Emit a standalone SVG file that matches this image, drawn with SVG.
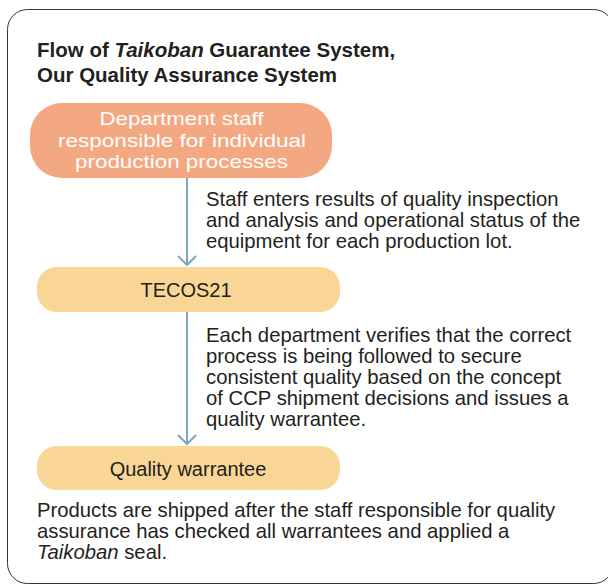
<svg xmlns="http://www.w3.org/2000/svg" width="608" height="586" viewBox="0 0 608 586">
<style>
text{font-family:"Liberation Sans",Arial,sans-serif;fill:#231f20}
.t{font-size:20.5px;font-weight:bold}
.b{font-size:20.3px}
.n{font-size:20px;text-anchor:middle}
.n1{font-size:19px;fill:#fff;text-anchor:middle}
.c{stroke:#7fa5bf;stroke-width:2;fill:none}
</style>
<rect x="7.5" y="9.5" width="606" height="574" rx="20" fill="#fff" stroke="#333" stroke-width="1"/>
<g id="title">
<text class="t" x="37" y="57">Flow of <tspan font-style="italic">Taikoban</tspan> Guarantee System,</text>
<text class="t" x="37" y="82">Our Quality Assurance System</text>
</g>
<g id="connectors">
<line class="c" x1="187" y1="178" x2="187" y2="265"/>
<polyline class="c" points="178,256 187,265 196,256"/>
<line class="c" x1="187" y1="312" x2="187" y2="444"/>
<polyline class="c" points="178,435 187,444 196,435"/>
</g>
<g id="node1">
<rect x="30" y="103" width="302" height="75" rx="32" fill="#f4a882"/>
<text class="n1" x="181.5" y="125" textLength="164" lengthAdjust="spacingAndGlyphs">Department staff</text>
<text class="n1" x="182" y="146.5" textLength="248" lengthAdjust="spacingAndGlyphs">responsible for individual</text>
<text class="n1" x="181.5" y="167.5" textLength="213" lengthAdjust="spacingAndGlyphs">production processes</text>
</g>
<g id="label1">
<text class="b" x="206" y="206">Staff enters results of quality inspection</text>
<text class="b" x="206" y="227">and analysis and operational status of the</text>
<text class="b" x="206" y="248">equipment for each production lot.</text>
</g>
<g id="node2">
<rect x="37" y="267" width="303" height="45" rx="20" fill="#f9d596"/>
<text class="n" x="186" y="297" font-size="19">TECOS21</text>
</g>
<g id="label2">
<text class="b" x="206" y="342">Each department verifies that the correct</text>
<text class="b" x="206" y="363">process is being followed to secure</text>
<text class="b" x="206" y="384">consistent quality based on the concept</text>
<text class="b" x="206" y="405">of CCP shipment decisions and issues a</text>
<text class="b" x="206" y="426">quality warrantee.</text>
</g>
<g id="node3">
<rect x="37" y="446" width="303" height="44" rx="20" fill="#f9d596"/>
<text class="n" x="188" y="476">Quality warrantee</text>
</g>
<g id="footer">
<text class="b" x="37" y="517">Products are shipped after the staff responsible for quality</text>
<text class="b" x="37" y="538">assurance has checked all warrantees and applied a</text>
<text class="b" x="37" y="559"><tspan font-style="italic">Taikoban</tspan> seal.</text>
</g>
</svg>
